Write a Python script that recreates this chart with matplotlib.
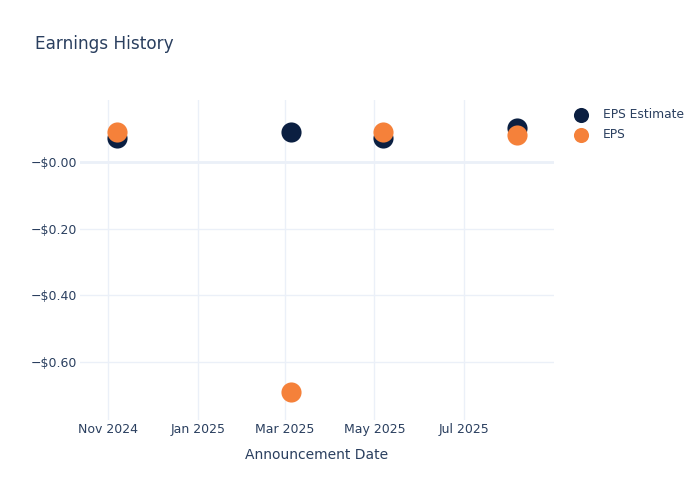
import numpy as np
import pandas as pd
import matplotlib
matplotlib.use("Agg")
import matplotlib.pyplot as plt
import matplotlib.dates as mdates
from matplotlib.ticker import FuncFormatter

# values
dates = pd.to_datetime(["2024-11-07", "2025-03-05", "2025-05-07", "2025-08-06"])
eps_estimate = [0.07, 0.09, 0.07, 0.10]
eps_actual = [0.09, -0.69, 0.09, 0.08]

TEXT = "#2a3f5f"
GRID = "#ebf0f8"
NAVY = "#0b1f41"
ORANGE = "#f5813a"

fig = plt.figure(figsize=(7, 5), dpi=100)
ax = fig.add_axes([80 / 700, 80 / 500, 474 / 700, 320 / 500])

ax.scatter(dates, eps_estimate, s=210, color=NAVY, label="EPS Estimate", zorder=3, linewidths=0)
ax.scatter(dates, eps_actual, s=210, color=ORANGE, label="EPS", zorder=4, linewidths=0)

ax.set_xlim(pd.Timestamp("2024-10-13"), pd.Timestamp("2025-08-31"))
ax.set_ylim(-0.773, 0.185)

ax.xaxis.set_major_locator(mdates.MonthLocator(bymonth=[1, 3, 5, 7, 11]))
ax.xaxis.set_major_formatter(mdates.DateFormatter("%b %Y"))
ax.set_yticks([0.0, -0.2, -0.4, -0.6])
ax.yaxis.set_major_formatter(FuncFormatter(lambda v, p: "\u2212$%.2f" % abs(v)))

for s in ax.spines.values():
    s.set_visible(False)
ax.grid(True, color=GRID, linewidth=1)
ax.axhline(0, color=GRID, linewidth=2, zorder=1)
ax.set_axisbelow(True)
ax.tick_params(length=0, labelsize=9, colors=TEXT)
ax.tick_params(axis="x", pad=2)
ax.tick_params(axis="y", pad=2)

ax.set_xlabel("Announcement Date", fontsize=10, color=TEXT, labelpad=9)
fig.text(35 / 700, 1 - 44 / 500, "Earnings History", fontsize=12.2, color=TEXT, va="center")

leg = ax.legend(loc="upper left", bbox_to_anchor=(1.02, 0.99), frameon=False,
                fontsize=8.8, labelcolor=TEXT, handletextpad=0.8, borderaxespad=0,
                labelspacing=0.6, markerscale=0.75)

fig.savefig("out.png", dpi=100)
